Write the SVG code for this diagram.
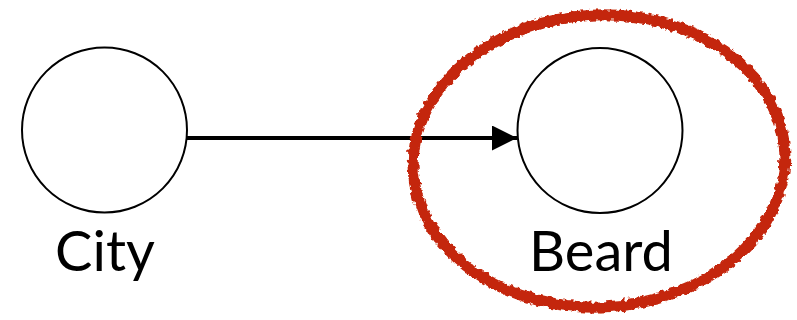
<svg xmlns="http://www.w3.org/2000/svg" width="797" height="320" viewBox="0 0 797 320">
  <style>
    .node { fill: #ffffff; stroke: #000000; stroke-width: 2; }
    .label { font-family: Lato, "Open Sans", "Liberation Sans", sans-serif; font-size: 56px; font-weight: 400; fill: #000000; text-anchor: middle; }
    .edge { stroke: #000000; stroke-width: 4; fill: none; }
    .mark { fill: none; stroke: #c4260c; stroke-width: 11; }
  </style>
  <defs>
    <marker id="arrow" markerUnits="userSpaceOnUse" markerWidth="26" markerHeight="26" refX="25" refY="12.5" orient="auto">
      <path d="M0,0 L25,12.5 L0,25 Z" fill="#000000"/>
    </marker>
    <filter id="rough" x="-10%" y="-10%" width="120%" height="120%">
      <feTurbulence type="fractalNoise" baseFrequency="0.2" numOctaves="2" seed="3" result="noise"/>
      <feDisplacementMap in="SourceGraphic" in2="noise" scale="6" xChannelSelector="R" yChannelSelector="G"/>
    </filter>
  </defs>
  <rect width="797" height="320" fill="#ffffff"/>
  <g id="connectors">
    <line class="edge" x1="187" y1="138" x2="517" y2="138" marker-end="url(#arrow)"/>
  </g>
  <g id="city">
    <circle class="node" cx="104.5" cy="130" r="82.5"/>
    <text class="label" x="105" y="271">City</text>
  </g>
  <g id="beard">
    <circle class="node" cx="600" cy="130.5" r="82.5"/>
    <text class="label" x="601" y="271">Beard</text>
  </g>
  <g id="highlight" filter="url(#rough)">
    <ellipse class="mark" cx="599" cy="161" rx="186" ry="146" transform="rotate(-3 599 161)"/>
  </g>
</svg>
